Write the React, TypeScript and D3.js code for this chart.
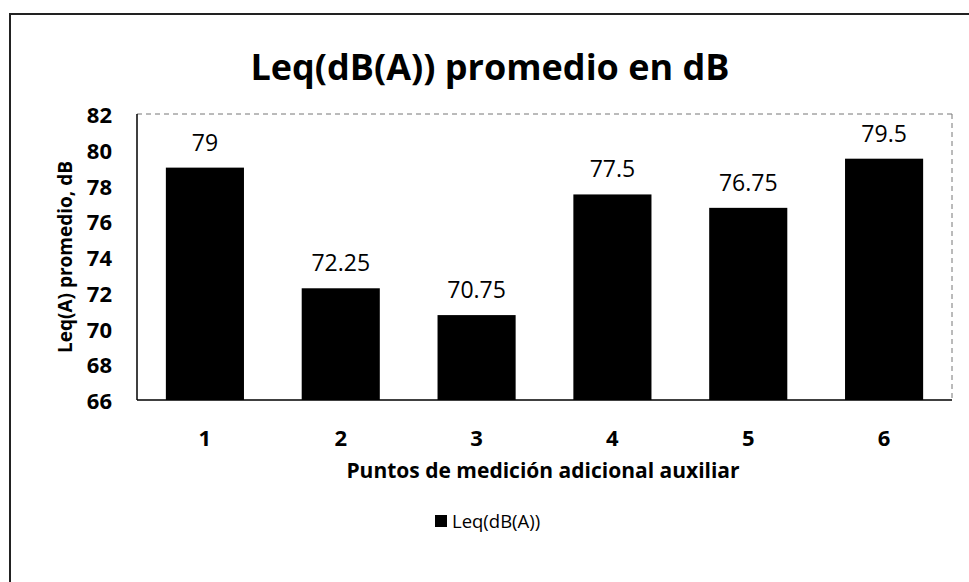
import * as d3 from "d3";

const categories = ["1", "2", "3", "4", "5", "6"];
const values = [79, 72.25, 70.75, 77.5, 76.75, 79.5];
const yTicks = [66, 68, 70, 72, 74, 76, 78, 80, 82];

const width = 969;
const height = 582;
const font = "'Open Sans', sans-serif";

export default function App() {
  const margin = { top: 114, right: 17, bottom: 182, left: 137 };
  const boundsWidth = width - margin.left - margin.right;
  const boundsHeight = height - margin.top - margin.bottom;

  const xScale = d3
    .scaleBand()
    .domain(categories)
    .range([0, boundsWidth])
    .paddingInner(0.425)
    .paddingOuter(0.2125);

  const yScale = d3.scaleLinear().domain([66, 82]).range([boundsHeight, 0]);

  const bars = values.map((v, i) => {
    const x = xScale(categories[i]) ?? 0;
    return (
      <g key={i}>
        <rect
          x={x}
          y={yScale(v)}
          width={xScale.bandwidth()}
          height={boundsHeight - yScale(v)}
          fill="#000"
        />
        <text
          x={x + xScale.bandwidth() / 2}
          y={yScale(v) - 17}
          textAnchor="middle"
          fontSize={23}
          fontFamily={font}
        >
          {v}
        </text>
      </g>
    );
  });

  return (
    <svg
      width={width}
      height={height}
      style={{ position: "absolute", left: 0, top: 0, background: "#fff" }}
    >
      <rect x={10} y={14} width={990} height={600} fill="none" stroke="#222" strokeWidth={2} />
      <text
        x={490}
        y={80}
        textAnchor="middle"
        fontSize={36}
        fontWeight="bold"
        fontFamily={font}
      >
        Leq(dB(A)) promedio en dB
      </text>
      <g transform={`translate(${margin.left},${margin.top})`}>
        <line x1={0} x2={boundsWidth} y1={0} y2={0} stroke="#777" strokeDasharray="5,4" />
        <line x1={boundsWidth} x2={boundsWidth} y1={0} y2={boundsHeight} stroke="#777" strokeDasharray="5,4" />
        {bars}
        <line x1={0} x2={0} y1={0} y2={boundsHeight} stroke="#000" strokeWidth={1.5} />
        <line x1={0} x2={boundsWidth} y1={boundsHeight} y2={boundsHeight} stroke="#000" strokeWidth={1.5} />
        {yTicks.map((t) => (
          <text
            key={t}
            x={-25}
            y={yScale(t)}
            textAnchor="end"
            dominantBaseline="central"
            fontSize={22}
            fontWeight="bold"
            fontFamily={font}
          >
            {t}
          </text>
        ))}
        {categories.map((c) => (
          <text
            key={c}
            x={(xScale(c) ?? 0) + xScale.bandwidth() / 2}
            y={boundsHeight + 37}
            textAnchor="middle"
            dominantBaseline="central"
            fontSize={22}
            fontWeight="bold"
            fontFamily={font}
          >
            {c}
          </text>
        ))}
      </g>
      <text
        transform="translate(72,257) rotate(-90)"
        textAnchor="middle"
        fontSize={19}
        fontWeight="bold"
        fontFamily={font}
      >
        Leq(A) promedio, dB
      </text>
      <text
        x={543}
        y={478}
        textAnchor="middle"
        fontSize={21}
        fontWeight="bold"
        fontFamily={font}
      >
        Puntos de medición adicional auxiliar
      </text>
      <rect x={435} y={515} width={12} height={12} fill="#000" />
      <text x={452} y={528} fontSize={18.5} fontFamily={font}>
        Leq(dB(A))
      </text>
    </svg>
  );
}
